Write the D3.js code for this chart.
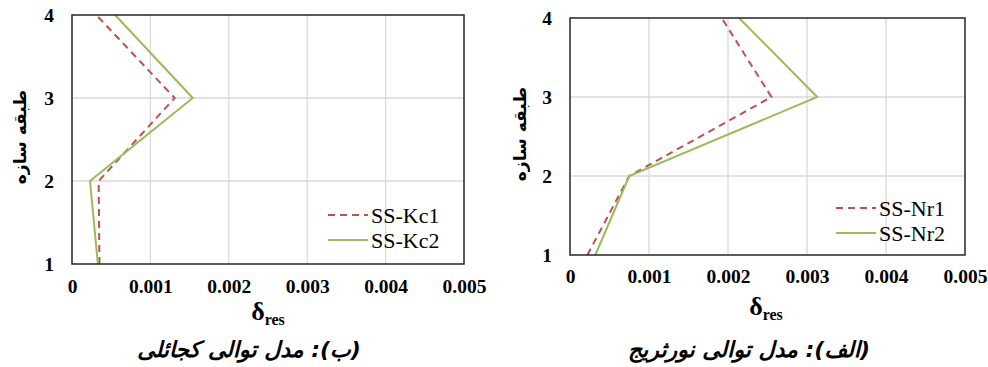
<!DOCTYPE html>
<html>
<head>
<meta charset="utf-8">
<script src="https://cdn.jsdelivr.net/npm/d3@7"></script>
<style>
  body { margin: 0; background: #fff; }
  svg { display: block; }
  .serif { font-family: 'Liberation Serif', 'DejaVu Serif', serif; }
</style>
</head>
<body>
<svg></svg>
<script>
const dims = { width: 988, height: 367 }
const svg = d3.select('svg')
  .attr('width', dims.width)
  .attr('height', dims.height)

// data
const stories = [1, 2, 3, 4]
const xTicks = [0, 0.001, 0.002, 0.003, 0.004, 0.005]
const xTickLabels = ['0', '0.001', '0.002', '0.003', '0.004', '0.005']
const kc1 = [0.00035, 0.00034, 0.00131, 0.00031]
const kc2 = [0.00033, 0.00023, 0.00154, 0.00055]
const nr1 = [0.00022, 0.00075, 0.00255, 0.00192]
const nr2 = [0.00032, 0.00075, 0.00313, 0.00214]
const seriesNamesKc = ['SS-Kc1', 'SS-Kc2']
const seriesNamesNr = ['SS-Nr1', 'SS-Nr2']
const yTitle = 'طبقه سازه'
const captionKc = '(ب): مدل توالی کجائلی'
const captionNr = '(الف): مدل توالی نورثریج'

const red = '#c0504d'
const green = '#9bbb59'
const persian = 'DejaVu Sans, sans-serif'

const panels = [
  { x0: 72, x1: 464, y0: 264, y1: 15, series: [kc1, kc2], names: seriesNamesKc,
    caption: captionKc, legX: 328, legY: 215, yTitleX: 20, yTitleY: 137,
    xTitleX: 268, xTitleY: 320, capX: 249, capY: 357, tickDy: 29 },
  { x0: 570, x1: 965, y0: 255, y1: 18, series: [nr1, nr2], names: seriesNamesNr,
    caption: captionNr, legX: 836, legY: 208, yTitleX: 520, yTitleY: 134,
    xTitleX: 766, xTitleY: 315, capX: 749, capY: 357, tickDy: 28 }
]

panels.forEach(p => {
  const g = svg.append('g')
  const x = d3.scaleLinear().domain([0, 0.005]).range([p.x0, p.x1])
  const y = d3.scaleLinear().domain([1, 4]).range([p.y0, p.y1])

  // gridlines
  g.append('g').selectAll('line').data(xTicks.slice(1, -1))
    .enter().append('line')
      .attr('x1', d => x(d)).attr('x2', d => x(d))
      .attr('y1', p.y1).attr('y2', p.y0)
      .attr('stroke', '#d9d9d9').attr('stroke-width', 1.3)
  g.append('g').selectAll('line').data(stories.slice(1, -1))
    .enter().append('line')
      .attr('x1', p.x0).attr('x2', p.x1)
      .attr('y1', d => y(d)).attr('y2', d => y(d))
      .attr('stroke', '#d9d9d9').attr('stroke-width', 1.3)

  // series
  const line = d3.line().x(d => x(d[0])).y(d => y(d[1]))
  p.series.forEach((vals, i) => {
    g.append('path')
      .datum(vals.map((v, j) => [v, stories[j]]))
      .attr('fill', 'none')
      .attr('stroke', i === 0 ? red : green)
      .attr('stroke-width', 2)
      .attr('stroke-dasharray', i === 0 ? '7,5' : null)
      .attr('d', line)
  })

  // frame
  g.append('rect')
    .attr('x', p.x0).attr('y', p.y1)
    .attr('width', p.x1 - p.x0).attr('height', p.y0 - p.y1)
    .attr('fill', 'none').attr('stroke', '#262626').attr('stroke-width', 1.5)

  // x axis
  const xAxis = g.append('g')
    .attr('transform', `translate(0,${p.y0})`)
    .call(d3.axisBottom(x).tickValues(xTicks).tickFormat((d, i) => xTickLabels[i]).tickSize(0))
  xAxis.attr('font-family', null).attr('font-size', null)
  xAxis.select('.domain').remove()
  xAxis.selectAll('text')
    .attr('class', 'serif')
    .attr('dy', null).attr('y', p.tickDy)
    .attr('font-weight', 'bold')
    .attr('font-size', 19.5).attr('fill', '#000')

  // y axis
  const yAxis = g.append('g')
    .attr('transform', `translate(${p.x0},0)`)
    .call(d3.axisLeft(y).tickValues(stories).tickFormat(d3.format('d')).tickSize(0))
  yAxis.attr('font-family', null).attr('font-size', null)
  yAxis.select('.domain').remove()
  yAxis.selectAll('text')
    .attr('class', 'serif')
    .attr('x', -18).attr('dy', '0.35em')
    .attr('font-weight', 'bold')
    .attr('font-size', 19.5).attr('fill', '#000')

  // y title
  g.append('text')
    .attr('transform', `translate(${p.yTitleX},${p.yTitleY}) rotate(-90)`)
    .attr('text-anchor', 'middle').attr('dy', '0.35em')
    .attr('font-family', persian).attr('font-weight', 'bold').attr('font-size', 17)
    .attr('direction', 'rtl')
    .text(yTitle)

  // x title
  const xt = g.append('text')
    .attr('class', 'serif')
    .attr('x', p.xTitleX).attr('y', p.xTitleY)
    .attr('text-anchor', 'middle')
    .attr('font-weight', 'bold')
  xt.append('tspan').attr('font-size', 26).text('δ')
  xt.append('tspan').attr('font-size', 16).attr('dy', 5).text('res')

  // caption
  g.append('text')
    .attr('x', p.capX).attr('y', p.capY)
    .attr('text-anchor', 'middle')
    .attr('direction', 'rtl')
    .attr('font-family', persian).attr('font-weight', 'bold').attr('font-style', 'italic')
    .attr('font-size', 22)
    .text(p.caption)

  // legend
  p.names.forEach((name, i) => {
    const ly = p.legY + i * 25
    g.append('line')
      .attr('x1', p.legX).attr('x2', p.legX + 40)
      .attr('y1', ly).attr('y2', ly)
      .attr('stroke', i === 0 ? red : green).attr('stroke-width', 2)
      .attr('stroke-dasharray', i === 0 ? '7,5' : null)
    g.append('text')
      .attr('class', 'serif')
      .attr('x', p.legX + 43).attr('y', ly).attr('dy', '0.35em')
      .attr('font-size', 22)
      .text(name)
  })
})
</script>
</body>
</html>
